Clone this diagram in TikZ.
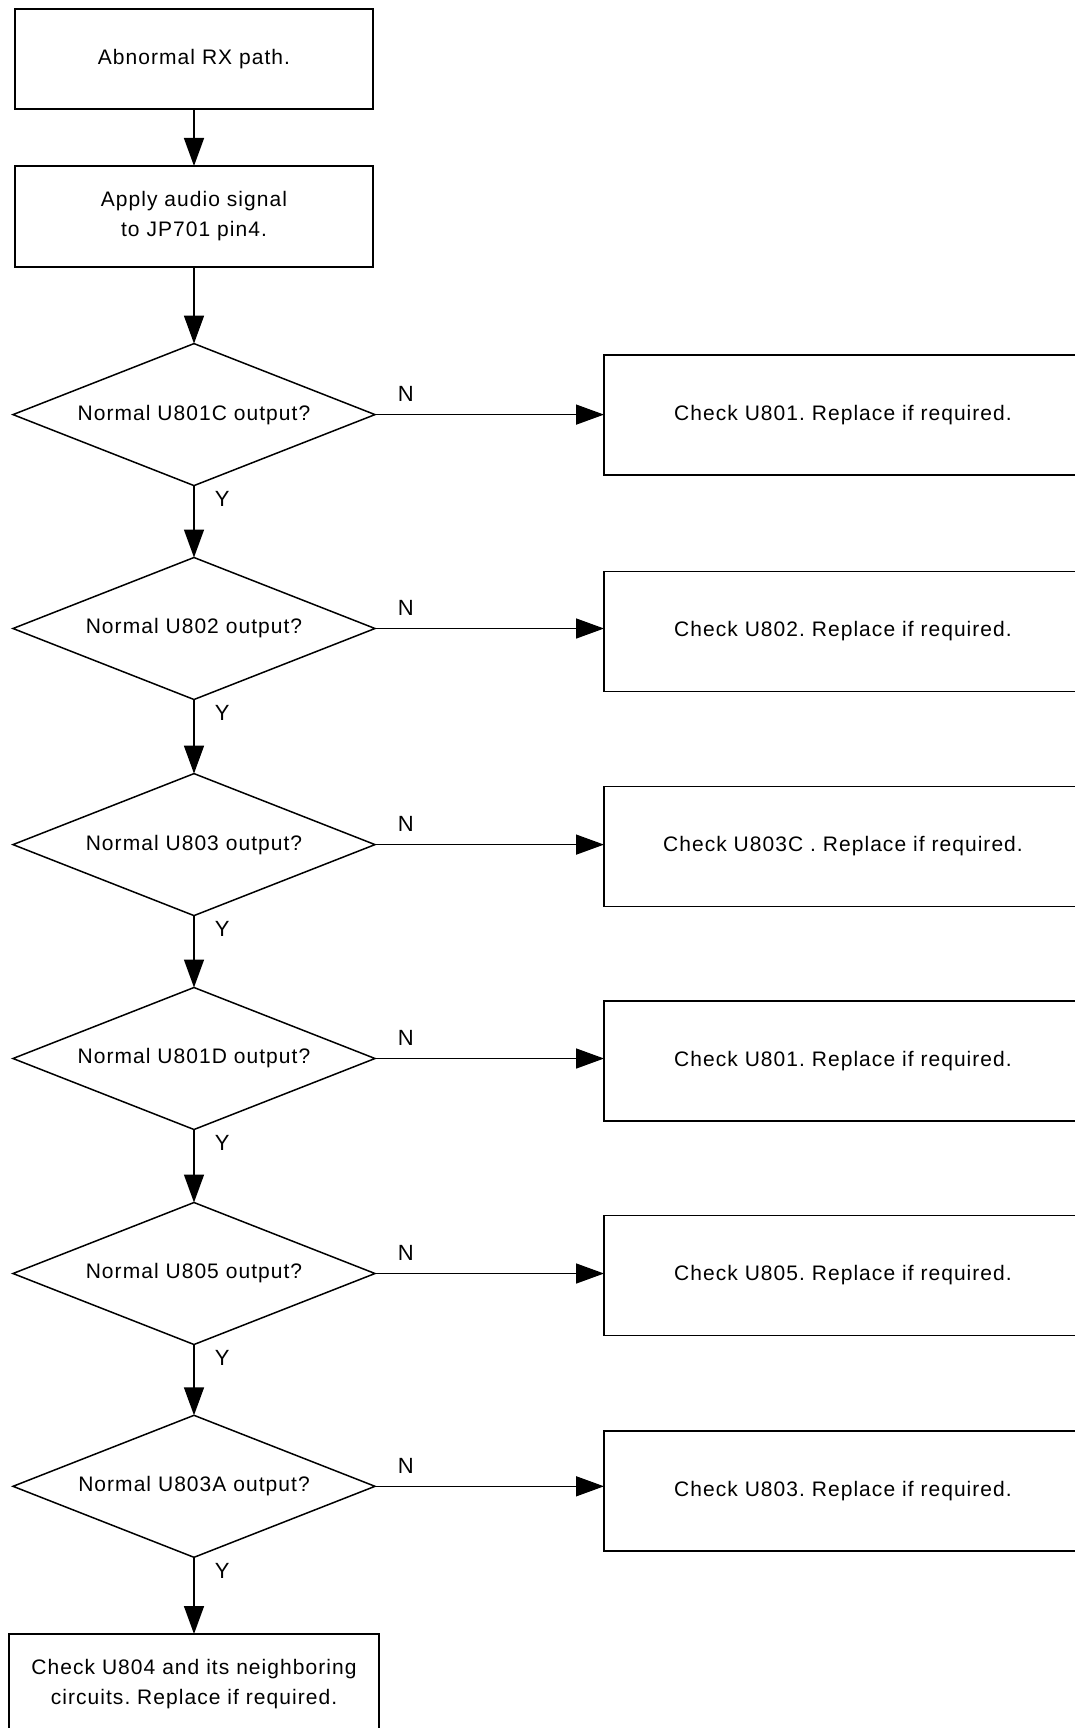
\documentclass[tikz,border=0pt]{standalone}
\usepackage{fontspec}
\setmainfont{Liberation Sans}[LetterSpace=5]
\usetikzlibrary{shapes.geometric,arrows.meta}
\frenchspacing
\begin{document}
\begin{tikzpicture}[x=1pt,y=-1pt,
  font=\fontsize{21}{30}\selectfont,
  line width=1.5pt,
  procbox/.style={draw, rectangle, align=center, inner sep=0pt, outer sep=0pt,
    minimum width=358pt, minimum height=100pt},
  sidebox/.style={draw, rectangle, align=center, inner sep=0pt, outer sep=0pt,
    minimum width=478pt, minimum height=120pt},
  decision/.style={draw, diamond, aspect=2.55, inner sep=0pt, outer sep=0pt,
    minimum width=362pt, minimum height=142pt},
  flow/.style={-{Triangle[length=28pt,width=20pt]}},
  lab/.style={inner sep=0pt, font=\fontsize{22}{26}\selectfont}]

\fill[white] (0,0) rectangle (1075,1728);
\useasboundingbox (0,0) rectangle (1075,1728);
\clip (0,0) rectangle (1075,1728);

% main column
\node[procbox] (start) at (194,59) {Abnormal RX path.};
\node[procbox, minimum height=101pt] (apply) at (194,216.5) {Apply audio signal\\to JP701 pin4.};

\node[decision] (d1) at (194,414.6) {Normal U801C output?};
\node[decision] (d2) at (194,628.5) {Normal U802 output?};
\node[decision] (d3) at (194,844.6) {Normal U803 output?};
\node[decision] (d4) at (194,1058.5) {Normal U801D output?};
\node[decision] (d5) at (194,1273.5) {Normal U805 output?};
\node[decision] (d6) at (194,1486.3) {Normal U803A output?};

\node[procbox, minimum width=370pt, minimum height=101pt] (final) at (194,1684.5)
  {Check U804 and its neighboring\\circuits. Replace if required.};

% repair actions on the right
\node[sidebox] (r1) at (843,415) {Check U801. Replace if required.};
\node[sidebox] (r2) at (843,631.5) {Check U802. Replace if required.};
\node[sidebox] (r3) at (843,846.5) {Check U803C . Replace if required.};
\node[sidebox] (r4) at (843,1061) {Check U801. Replace if required.};
\node[sidebox] (r5) at (843,1275.5) {Check U805. Replace if required.};
\node[sidebox] (r6) at (843,1491) {Check U803. Replace if required.};

% vertical flow
\draw[flow] (start) -- (apply);
\draw[flow] (apply) -- (d1);
\draw[flow] (d1.south) -- (d2.north);
\draw[flow] (d2.south) -- (d3.north);
\draw[flow] (d3.south) -- (d4.north);
\draw[flow] (d4.south) -- (d5.north);
\draw[flow] (d5.south) -- (d6.north);
\draw[flow] (d6.south) -- (final.north);

% "no" branches
\foreach \i in {1,...,6} {
  \draw[flow] (d\i.east) -- (d\i.east -| r\i.west);
  \node[lab, anchor=south west] (n\i) at ([xshift=22pt,yshift=12pt]d\i.east) {N};
  \node[lab, anchor=north west] (y\i) at ([xshift=20pt,yshift=-5pt]d\i.south) {Y};
}
\end{tikzpicture}
\end{document}
